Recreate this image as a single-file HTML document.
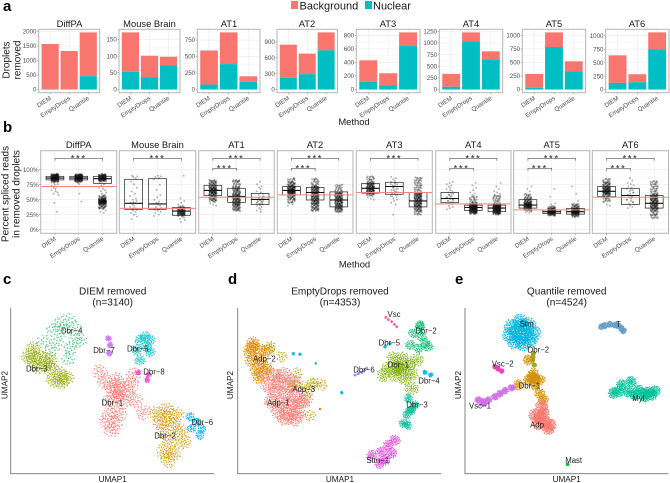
<!DOCTYPE html>
<html lang="en">
<head>
<meta charset="utf-8">
<title>Removed droplets figure</title>
<style>
html,body{margin:0;padding:0;background:#fff;}
svg{display:block;font-family:"Liberation Sans",sans-serif;}
.t{font-size:9.4px;fill:#1a1a1a;text-anchor:middle;}
.ax{font-size:9.4px;fill:#1a1a1a;text-anchor:middle;}
.yl{font-size:10px;fill:#1a1a1a;text-anchor:middle;}
.ut{font-size:10.1px;fill:#1a1a1a;text-anchor:middle;}
.ua{font-size:8.2px;fill:#1a1a1a;text-anchor:middle;}
.lt{font-size:15px;font-weight:bold;fill:#000;}
</style>
</head>
<body>
<svg id="fig" xmlns="http://www.w3.org/2000/svg" width="670" height="483" viewBox="0 0 670 483">
  <rect x="0" y="0" width="670" height="483" fill="#fff"/>
  <g id="layer-a"></g>
  <g id="layer-b"></g>
  <g id="layer-c"></g>

  <text class="lt" x="3" y="11">a</text>
  <text class="lt" x="3" y="132">b</text>
  <text class="lt" x="3" y="284">c</text>
  <text class="lt" x="228" y="284">d</text>
  <text class="lt" x="455" y="284">e</text>

  <rect x="291" y="1" width="7" height="8" fill="#F8766D"/>
  <text x="299.5" y="9.5" font-size="11" fill="#1a1a1a">Background</text>
  <rect x="365" y="1" width="7" height="8" fill="#00BFC4"/>
  <text x="373" y="9.5" font-size="11" fill="#1a1a1a">Nuclear</text>

  <text class="t" x="69.5" y="27">DiffPA</text>
  <text class="t" x="149.5" y="27">Mouse Brain</text>
  <text class="t" x="229" y="27">AT1</text>
  <text class="t" x="307" y="27">AT2</text>
  <text class="t" x="388" y="27">AT3</text>
  <text class="t" x="471" y="27">AT4</text>
  <text class="t" x="554" y="27">AT5</text>
  <text class="t" x="637" y="27">AT6</text>

  <text class="yl" transform="translate(9.5,60) rotate(-90)">Droplets</text>
  <text class="yl" transform="translate(20.5,60) rotate(-90)">removed</text>
  <text class="ax" x="354" y="125">Method</text>

  <text class="t" x="78.7" y="148">DiffPA</text>
  <text class="t" x="157.5" y="148">Mouse Brain</text>
  <text class="t" x="236.5" y="148">AT1</text>
  <text class="t" x="315" y="148">AT2</text>
  <text class="t" x="394.3" y="148">AT3</text>
  <text class="t" x="473.3" y="148">AT4</text>
  <text class="t" x="551.7" y="148">AT5</text>
  <text class="t" x="630.3" y="148">AT6</text>

  <text class="yl" transform="translate(8.5,194) rotate(-90)">Percent spliced reads</text>
  <text class="yl" transform="translate(19.5,194) rotate(-90)">in removed droplets</text>
  <text class="ax" x="354.5" y="267.5">Method</text>

  <text class="ut" x="112.7" y="294.5">DIEM removed</text>
  <text class="ut" x="112.7" y="305.5">(n=3140)</text>
  <text class="ut" x="340" y="294.5">EmptyDrops removed</text>
  <text class="ut" x="340" y="305.5">(n=4353)</text>
  <text class="ut" x="566.7" y="294.5">Quantile removed</text>
  <text class="ut" x="566.7" y="305.5">(n=4524)</text>

  <text class="ua" x="112.7" y="482">UMAP1</text>
  <text class="ua" transform="translate(7.5,385) rotate(-90)">UMAP2</text>
  <text class="ua" x="340" y="482">UMAP1</text>
  <text class="ua" transform="translate(233,385) rotate(-90)">UMAP2</text>
  <text class="ua" x="566.7" y="482">UMAP1</text>
  <text class="ua" transform="translate(461,385) rotate(-90)">UMAP2</text>
</svg>

<script>
/* ---------- data: panel a (droplets removed) ---------- */
const methods = ["DIEM", "EmptyDrops", "Quantile"];
const totalDroplets = [
  [1570, 1330, 1970],
  [171, 101, 98],
  [592, 866, 200],
  [850, 680, 1082],
  [432, 240, 845],
  [336, 1228, 821],
  [288, 1055, 521],
  [636, 284, 1062]
];
const nuclearDroplets = [
  [20, 0, 460],
  [53, 36, 72],
  [75, 385, 115],
  [220, 290, 742],
  [113, 64, 643],
  [57, 1035, 650],
  [30, 785, 337],
  [123, 135, 747]
];
const barTickValues = [
  [0, 500, 1000, 1500, 2000],
  [0, 50, 100, 150],
  [0, 250, 500, 750],
  [0, 300, 600, 900],
  [0, 200, 400, 600, 800],
  [0, 250, 500, 750, 1000, 1250],
  [0, 250, 500, 750, 1000],
  [0, 250, 500, 750, 1000]
];

/* ---------- data: panel b (percent spliced reads) ---------- */
const percentTicks = [0, 25, 50, 75, 100];
const percentTickLabels = ["0%", "25%", "50%", "75%", "100%"];
const thresholds = [72, 35.5, 54, 58, 62, 43, 33, 54];
const boxQ1 = [
  [83, 83, 77], [34, 34, 24], [57, 45.5, 42], [58, 49.5, 38],
  [61, 59, 38], [45, 32, 30], [36, 27, 26], [55, 42, 36]
];
const boxMedian = [
  [86, 86, 85], [44, 43, 31], [65.5, 55.5, 50.5], [65.5, 62, 49.5],
  [69, 72, 48], [52, 37, 36], [41, 30, 30], [64, 57, 44]
];
const boxQ3 = [
  [89, 89, 89], [84, 85, 37], [74, 69, 60.5], [72, 70.5, 63],
  [77, 79, 62], [62, 41, 41], [50, 33, 35.5], [72, 69, 57]
];
const shortBracket = [false, false, true, true, false, true, true, true];
const starLabel = "***";
/* dense part of each strip, per dataset then method */
const coreReads = [
  [[92,91,90,89,88,87,86,85,84,83,82,81,80,92,90,88,86,84,88,87,86,85,84],
   [92,91,90,89,88,87,86,85,84,83,82,81,80,91,89,87,85,83,88,87,86,85,84],
   [92,91,90,89,88,87,86,85,84,83,82,81,90,88,86,84,56,54,52,50,48,47,46,45,44,42,40,49,51,43,38,36,48,46,44,47,50]],
  [[],[],[38,35,33,32,31,30,29,28,27,26,25,24]],
  [[82,80,78,76,74,72,70,68,66,64,62,60,58,56,54,52,50,48,70,68,66,64,62,60],
   [82,80,76,72,68,64,60,58,56,54,52,50,48,46,44,42,40,38,36,34,32,70,66,62,58,54,50,46,42],
   []],
  [[84,80,78,76,74,72,70,68,66,65,64,63,62,60,58,56,54,52,50,46,72,70,68,66,64,62,60],
   [84,80,76,72,70,68,66,64,62,60,58,56,54,52,50,48,46,44,42,40,38,36,34,32,72,68,64,60,56,52,48,44],
   [74,70,66,62,60,58,56,54,52,50,48,46,44,42,40,38,36,34,32,30,60,56,52,48,44,40,36]],
  [[88,84,80,78,76,74,72,70,68,66,64,62,60,58,76,72,70,68,66,64],
   [],
   [86,82,78,74,70,66,62,60,58,56,54,52,50,48,46,44,42,40,38,36,34,32,30,26,60,56,52,48,44,40]],
  [[],
   [54,50,46,44,42,41,40,39,38,37,36,35,34,33,32,31,30,29,28,27,41,39,37,35,33,31],
   [56,52,48,44,42,41,40,39,38,37,36,35,34,33,32,31,30,29,28,27,26,40,38,36,34,32,30]],
  [[58,54,52,50,48,46,44,43,42,41,40,39,38,37,36,34,32,46,44,42,40,38],
   [38,36,35,34,33,32,31,30,29,28,27,26,25,24,33,31,29,30,32,30,28],
   [42,40,38,36,35,34,33,32,31,30,29,28,27,26,25,24,22,31,29,34,32,30,28]],
  [[84,80,78,76,74,72,70,68,66,64,62,60,58,56,52,48,70,68,66,64,62,60],
   [],
   [80,76,72,68,64,60,58,56,54,52,50,48,46,44,42,40,38,36,34,32,30,26,24,20,56,52,48,44,40,36]]
];
/* sparse part of each strip */
const tailReads = [
  [[78,76,75,73,72,70,68,66,64,62,60,58,45,30],[78,76,72,60,47],[78,76,74,72,70,68,66,64,62,60,58,36,34,32,30,28]],
  [[90,89,88,86,80,76,70,64,60,56,52,50,48,46,45,44,42,40,38,36,35,34,33,32,30,28,25,22,18],
   [90,89,88,86,84,75,66,58,54,50,47,45,44,43,42,40,38,36,35,34,33,32,30,28,25,23],
   [90,52,48,45,42,40,37,35,23,22,20,18,16,13]],
  [[46,44,42,40],[],[80,76,72,70,68,64,62,60,58,56,54,52,50,49,48,47,46,45,44,43,42,41,40,38,36,34,32,30,55,53,51,49,47,45,43]],
  [[48,44,42,40,86],[],[]],
  [[84,56,54,52,50],[88,86,84,82,80,78,76,74,72,70,68,66,64,62,60,58,56,54,52,50,48,45,42,25,78,76,74,72,70,68,66,64,62,60,58,56],[]],
  [[80,78,76,74,72,70,68,66,64,62,60,58,56,54,52,50,48,46,44,42,40,38,36,34,60,58,56,54,52,50,48,46,44],[78,74,70,66,62,60,58,56],[78,72,68,64,62,60,58,56,54]],
  [[72,68,64,60,56,30,29,28],[68,55,44,42,40],[72,60,48,44]],
  [[46,42,40],[86,82,78,76,74,72,70,68,66,64,62,60,58,56,54,52,50,48,46,44,42,40,38,36,66,62,58,54,50,46],[]]
];

/* ---------- data: UMAP clusters (UMAP units) ---------- */
const diemClusters = {
  "Dbr-1": [[36,26.6],[34,24.6],[38,24.6],[33,21.6],[37,21.6],[35,28.1],[31.5,27.6],[40.5,22.1],[33,18.1],[36,18.1],[32,15.6],[34.5,15.1],[33.5,13.1],[39.5,26.6],[35,23.1],[36,24.6],[33.5,26],[43,18.5],[30,30.5],[40,29.5]],
  "Dbr-2": [[50,19.1],[53,17.6],[48,15.6],[52,14.6],[49,12.6],[54,12.6],[51,9.6],[55,9.6],[49,6.6],[52,6.1],[50.5,4.1],[47,18.1],[50,16.5]],
  "Dbr-3": [[10,37.6],[8.5,35.1],[12,35.1],[15,34.1],[11,32.1],[15,31.6],[18,30.1],[18.5,27.6],[16,28.1],[20,28.6],[13.5,33.1],[10,34.6]],
  "Dbr-4": [[20.5,46.1],[22.5,43.6],[16,43.1],[19,43.1],[24,40.1],[13,39.6],[17,39.1],[21,37.6],[20.5,34.6],[15,36.6],[22.5,40.1],[18,45.1]],
  "Dbr-5": [[43.5,41.1],[45,40.1],[42,40.1],[44,38.1],[41,37.1],[45,36.6],[42,34.1]],
  "Dbr-6": [[57,17.1],[59,15.6],[60.5,13.6],[57.5,13.6],[60,11.6]],
  "Dbr-7": [[32.5,40.6],[33,38.6],[32.8,36.1]],
  "Dbr-8": [[44.5,29.6],[44.2,28.1],[41.5,30.4]]
};
const diemLabels = {
  "Dbr\u22124": [21.5,42.9], "Dbr\u22127": [31.2,37], "Dbr\u22125": [41.3,37.4], "Dbr\u22123": [11,31.4],
  "Dbr\u22128": [46.2,30.6], "Dbr\u22121": [33.7,21.2], "Dbr\u22126": [60.7,15.4], "Dbr\u22122": [49.5,11.3]
};
const emptyClusters = {
  "Adp-1": [[16,27.6],[19,26.6],[15,24.6],[18,24.1],[21,23.6],[14,21.6],[17,21.1],[20,20.6],[22.5,21.6],[16,18.6],[19,18.1],[22,18.1],[18,16.6],[21,16.6],[13,26.6],[11.5,30.1],[14.5,29.6],[17.5,29.6],[20.5,27.6],[24,22.1]],
  "Adp-2": [[8.5,39.1],[7.5,36.6],[10.5,37.1],[8,34.1],[11,34.1],[9.5,31.6],[12.5,31.6],[13,37.1],[10,29.1],[8,38]],
  "Adp-3": [[21,26.6],[24,26.1],[27,27.1],[29,26.6],[25,24.6],[25.5,17.4],[21.5,30.1],[13.5,38.1],[17,35.1],[26,27]],
  "Dbr-1": [[52,31.6],[49,31.6],[55,32.6],[51,29.6],[54,28.6],[50.5,34.6],[53,34.6],[56,30.1],[57.5,34.1],[47.5,29.6],[56,25.6],[52,32],[53,31]],
  "Dbr-2": [[58.5,44.1],[56.5,42.1],[60,39.1],[59,41.1],[55.5,38.6],[58,37.6],[61,38.1],[58.5,44.5]],
  "Dbr-3": [[56,19.1],[54.5,17.6],[57,20.6],[54.8,14.6],[53.5,15.1],[55,22.6],[55.5,19]],
  "Dbr-4": [[61.7,29.6],[60,30.4]],
  "Dbr-5": [[48,38.1],[49.5,39],[35,24.3],[22.5,35.8],[20.5,36]],
  "Dbr-6": [[39,29.6],[40,30],[41,30.4],[41.8,31],[42.5,31.6]],
  "Vsc": [[48.2,46.9],[49,46.2],[50,45.6],[50.8,44.8],[51.5,44.1]],
  "Stm-1": [[49,8.6],[47,6.6],[50,6.1],[48,4.1],[46.5,3.1],[51,10.1],[44,5.5]],
  "Green": [[27.2,33.1]],
  "Orange": [[28.5,19.4]]
};
const emptyLabels = {
  "Vsc": [50.7,47.8], "Dbr\u22122": [60.3,42.9], "Dbr\u22125": [49.3,39.3], "Adp\u22122": [11.8,34.4],
  "Dbr\u22121": [52,32.6], "Dbr\u22126": [41.7,31.1], "Dbr\u22124": [61.2,27.8], "Adp\u22123": [23.6,25.3],
  "Adp\u22121": [16,21.2], "Dbr\u22123": [57.6,20.6], "Stm\u22121": [45.8,4]
};
const quantileClusters = {
  "Stm": [[22.5,45.6],[20,44.1],[25,44.6],[21.5,42.6],[24.5,42.1],[19.5,41.6],[22.5,40.6],[25.5,40.1],[21,39.6],[23.5,39.1],[23,44.1],[26.5,42.1]],
  "T": [[47,44.1],[48,44.5],[49.5,44.8],[51,44.6],[52,44.4],[53,43.5],[53.5,42.9]],
  "Dbr-2": [[26.5,36.1],[26.3,34.1],[26.8,32.6],[26.4,35]],
  "Dbr-1": [[27,28.6],[25,28.1],[28.5,28.1],[26.5,30.1],[27,26.6],[22,26.6],[29.5,22.1],[25,34.1],[27,28.5],[26,29],[28.5,24]],
  "Vsc-2": [[15,32.1],[16,31.4],[17,30.8]],
  "Vsc-1": [[11.5,21.1],[10,22.1],[13,22.1],[15,23.1],[16.5,24],[18,24.9],[20,25.8],[11.5,21.5]],
  "Adp": [[29.5,18.1],[27,17.6],[30,15.6],[28,15.1],[31.5,14.6],[29,20.1],[31,13.6],[28.5,17]],
  "Mast": [[36.8,2.8]],
  "Myl": [[52,24.6],[55,24.6],[58,25.1],[61,24.6],[62,23.6],[60,23.1],[57,23.6],[55.8,27.6],[53,26.6],[63,24.8],[60,24],[50.5,24.2]]
};
const quantileLabels = {
  "Stm": [24.5,44.9], "T": [52,44.8], "Dbr\u22122": [28,37.1], "Vsc\u22122": [17.3,32.9], "Dbr\u22121": [25.3,26.4],
  "Myl": [58,22.6], "Vsc\u22121": [10.5,20.4], "Adp": [27.6,14.6], "Mast": [38.6,4]
};

/* ---------- styles and layout (not data) ---------- */
const diemStyle = {
  "Dbr-1":["#F8766D",8,24],"Dbr-2":["#D39200",8,26],"Dbr-3":["#93AA00",7.5,30],"Dbr-4":["#2FC26A",7.5,15],
  "Dbr-5":["#00C1C8",5.5,24],"Dbr-6":["#00B0F6",4.5,20],"Dbr-7":["#CF78FF",3,24],"Dbr-8":["#F040C8",3,14]
};
const emptyStyle = {
  "Adp-1":["#F8766D",8,38],"Adp-2":["#DE8C00",7,36],"Adp-3":["#B79F00",6,16],"Dbr-1":["#7CAE00",7,32],
  "Dbr-2":["#00BA68",5,22],"Dbr-3":["#00C09A",4.5,24],"Dbr-4":["#00B4F0",2.5,14],"Dbr-5":["#00B6EB",2,9],
  "Dbr-6":["#A58AFF",1.5,10],"Vsc":["#FB61A7",1.5,9],"Stm-1":["#E040D8",5.5,28],"Green":["#00BA38",1,8],"Orange":["#F07000",1.2,6]
};
const quantileStyle = {
  "Stm":["#00B4E0",8,38],"T":["#619CC4",3.2,20],"Dbr-2":["#A5A520",2.4,16],"Dbr-1":["#D39200",5.5,26],
  "Vsc-2":["#F040B8",2.4,18],"Vsc-1":["#CF6FE8",3.6,24],"Adp":["#F8766D",6.5,38],"Mast":["#00BA38",1.4,14],"Myl":["#00C19A",5.5,30]
};
const dotStencil = [[0,0],[.35,.1],[-.3,.2],[.1,-.4],[-.15,-.25],[.55,-.3],[-.6,-.1],[.25,.55],[-.35,.6],[.75,.15],[-.8,.25],[.05,.85],[.5,.7],[-.65,-.6],[.65,-.65],[.1,-.85],[-.25,-.7],[.9,-.2],[-.95,-.15],[.45,.3],[-.1,.45],[-.45,-.35],[.3,-.15],[-.2,.05],[.15,.25],[.4,-.55],[-.5,.4],[.8,.5],[-.75,.6],[.02,-.15],[.6,.02],[-.55,.08],[.2,-.62],[-.1,.68],[.33,.42],[-.38,-.52],[.72,-.42],[-.82,-.38]];
const jitterOffsets = [-.9,.2,.7,-.4,.95,-.15,.5,-.7,.1,.85,-.55,.35,-.95,.6,-.25,.75,-.05,-.8,.4,-.3,.15];
const barFrames = [[38.7,99.7],[119,180],[197.3,260],[277,337.5],[356.3,420],[439.3,502.7],[522.3,585.7],[605.7,669]];
const boxFrames = [[40.7,116.7],[119.3,195.7],[198.7,274.3],[277.3,353],[356.3,432.3],[435.7,511],[513.7,589.7],[592.3,668.5]];

const NS = "http://www.w3.org/2000/svg";
function make(parent, tag, props) {
  const node = document.createElementNS(NS, tag);
  for (const k in props) node.setAttribute(k, props[k]);
  parent.appendChild(node);
  return node;
}

/* ---------- panel a ---------- */
const layerA = document.getElementById("layer-a");
const barTop = 29.3, barBottom = 92.7, barZero = 89.5, barMaxY = 32.4;
barFrames.forEach(function (frame, p) {
  const left = frame[0], right = frame[1];
  const maxTotal = Math.max.apply(null, totalDroplets[p]);
  const yScale = function (v) { return barZero - v / maxTotal * (barZero - barMaxY); };
  const xScale = function (c) { return left + (c + 0.6) / 3.2 * (right - left); };
  const g = make(layerA, "g", {});
  
  
  const bg = make(g, "rect", {x: left, y: barTop, width: right - left, height: barBottom - barTop, fill: "#fff"});
  
  
  barTickValues[p].forEach(function (t, i) {
    const y = yScale(t);
    const grid = make(g, "line", {x1: left, x2: right, y1: y, y2: y, stroke: "#ebebeb", "stroke-width": .6});
    
    
    if (i < barTickValues[p].length - 1) {
      const midY = yScale((t + barTickValues[p][i + 1]) / 2);
      const minor = make(g, "line", {x1: left, x2: right, y1: midY, y2: midY, stroke: "#f3f3f3", "stroke-width": .5});
      
      
    }
    const tick = make(g, "line", {x1: left - 1.5, x2: left, y1: y, y2: y, stroke: "#666", "stroke-width": .5});
    
    
    const lab = make(g, "text", {x: left - 2.2, y: y + 2.2, "font-size": 6.2, fill: "#4d4d4d", "text-anchor": "end"});
    lab.textContent = t;
    
    
  });
  methods.forEach(function (m, c) {
    const cx = xScale(c), bw = 0.9 / 3.2 * (right - left);
    const grid = make(g, "line", {x1: cx, x2: cx, y1: barTop, y2: barBottom, stroke: "#ebebeb", "stroke-width": .6});
    
    
    const total = totalDroplets[p][c], nuc = nuclearDroplets[p][c];
    const b1 = make(g, "rect", {x: cx - bw / 2, y: yScale(total), width: bw, height: yScale(nuc) - yScale(total), fill: "#F8766D"});
    
    
    const b2 = make(g, "rect", {x: cx - bw / 2, y: yScale(nuc), width: bw, height: barZero - yScale(nuc), fill: "#00BFC4"});
    
    
    const tick = make(g, "line", {x1: cx, x2: cx, y1: barBottom, y2: barBottom + 1.5, stroke: "#666", "stroke-width": .5});
    
    
    const lab = make(g, "text", {transform: "translate(" + (cx + 1.5) + "," + (barBottom + 6.5) + ") rotate(-33)", "font-size": 6.2, fill: "#4d4d4d", "text-anchor": "end"});
    lab.textContent = m;
    
    
  });
  const border = make(g, "rect", {x: left, y: barTop, width: right - left, height: barBottom - barTop, fill: "none", stroke: "#b5b5b5", "stroke-width": 1});
  
  
});

/* ---------- panel b ---------- */
const layerB = document.getElementById("layer-b");
const boxTop = 150.7, boxBottom = 233.3;
const boxY = function (v) { return 229.7 - v * 0.6; };
boxFrames.forEach(function (frame, p) {
  const left = frame[0], right = frame[1];
  const xScale = function (c) { return left + (c + 0.6) / 3.2 * (right - left); };
  const bw = 0.75 / 3.2 * (right - left);
  const g = make(layerB, "g", {});
  
  
  percentTicks.forEach(function (t, i) {
    const y = boxY(t);
    const grid = make(g, "line", {x1: left, x2: right, y1: y, y2: y, stroke: "#ebebeb", "stroke-width": .6});
    
    
    if (i < percentTicks.length - 1) {
      const mid = boxY((t + percentTicks[i + 1]) / 2);
      const minor = make(g, "line", {x1: left, x2: right, y1: mid, y2: mid, stroke: "#f3f3f3", "stroke-width": .5});
      
      
    }
    if (p === 0) {
      const tick = make(g, "line", {x1: left - 1.5, x2: left, y1: y, y2: y, stroke: "#666", "stroke-width": .5});
      
      
      const lab = make(g, "text", {x: left - 2, y: y + 2.2, "font-size": 6.2, fill: "#4d4d4d", "text-anchor": "end"});
      lab.textContent = percentTickLabels[i];
      
      
    }
  });
  methods.forEach(function (m, c) {
    const cx = xScale(c);
    const grid = make(g, "line", {x1: cx, x2: cx, y1: boxTop, y2: boxBottom, stroke: "#ebebeb", "stroke-width": .6});
    
    
    let j = c * 5 + p * 3;
    coreReads[p][c].forEach(function (v) {
      for (let r = 0; r < 7; r++) {
        const dot = make(g, "circle", {cx: cx + jitterOffsets[j % jitterOffsets.length] * 3.8, cy: boxY(v + (r - 3) * 0.4), r: .95, fill: "#000", "fill-opacity": .33});
        
        
        j++;
      }
    });
    tailReads[p][c].forEach(function (v) {
      const dot = make(g, "circle", {cx: cx + jitterOffsets[j % jitterOffsets.length] * 3.8, cy: boxY(v), r: .95, fill: "#000", "fill-opacity": .3});
      
      
      j++;
    });
    const box = make(g, "rect", {x: cx - bw / 2, y: boxY(boxQ3[p][c]), width: bw, height: boxY(boxQ1[p][c]) - boxY(boxQ3[p][c]), fill: "none", stroke: "#222", "stroke-width": .7});
    
    
    const med = make(g, "line", {x1: cx - bw / 2, x2: cx + bw / 2, y1: boxY(boxMedian[p][c]), y2: boxY(boxMedian[p][c]), stroke: "#111", "stroke-width": 1.1});
    
    
    const tick = make(g, "line", {x1: cx, x2: cx, y1: boxBottom, y2: boxBottom + 1.5, stroke: "#666", "stroke-width": .5});
    
    
    const lab = make(g, "text", {transform: "translate(" + (cx + 1.5) + "," + (boxBottom + 6.5) + ") rotate(-33)", "font-size": 6.2, fill: "#4d4d4d", "text-anchor": "end"});
    lab.textContent = m;
    
    
  });
  const red = make(g, "line", {x1: left, x2: right, y1: boxY(thresholds[p]), y2: boxY(thresholds[p]), stroke: "#F8837B", "stroke-width": 1});
  
  
  const drawBracket = function (c1, c2, y) {
    const x1 = xScale(c1), x2 = xScale(c2);
    const br = make(g, "path", {d: "M" + x1 + " " + (y + 2.4) + "V" + y + "H" + x2 + "V" + (y + 2.4), fill: "none", stroke: "#555", "stroke-width": .6});
    
    
    const st = make(g, "text", {x: (x1 + x2) / 2, y: y + 3.2, "font-size": 9.5, fill: "#222", "text-anchor": "middle", "letter-spacing": 1.6});
    st.textContent = starLabel;
    
    
  };
  drawBracket(0, 2, 158.3);
  if (shortBracket[p]) drawBracket(0, 1, 168.3);
  const border = make(g, "rect", {x: left, y: boxTop, width: right - left, height: boxBottom - boxTop, fill: "none", stroke: "#b5b5b5", "stroke-width": 1});
  
  
});

/* ---------- panels c, d, e ---------- */
const layerC = document.getElementById("layer-c");
function drawUmap(left, domainStart, clusters, styles, labels, passes) {
  const bottom = 473.7, top = 308, right = left + 203.5, perUnit = 10 / 3;
  const xScale = function (u) { return left + (u - domainStart) * perUnit; };
  const yScale = function (v) { return bottom - v * perUnit; };
  const g = make(layerC, "g", {});
  
  
  let turn = 0;
  Object.keys(clusters).forEach(function (name) {
    const style = styles[name];
    clusters[name].forEach(function (pt) {
      for (let pass = 0; pass < passes; pass++) {
        turn += 2.4;
        const ca = Math.cos(turn), sa = Math.sin(turn);
        for (let i = 0; i < style[2]; i++) {
          const ox = dotStencil[i % dotStencil.length][0] * style[1], oy = dotStencil[i % dotStencil.length][1] * style[1];
          const dot = make(g, "circle", {cx: xScale(pt[0]) + ox * ca - oy * sa, cy: yScale(pt[1]) + ox * sa + oy * ca, r: .6, fill: style[0], "fill-opacity": .85});
          
          
        }
      }
    });
  });
  const axis = make(g, "path", {d: "M" + left + " " + top + "V" + bottom + "H" + right, fill: "none", stroke: "#777", "stroke-width": .9});
  
  
  Object.keys(labels).forEach(function (name) {
    const lab = make(g, "text", {x: xScale(labels[name][0]), y: yScale(labels[name][1]) + 2.7, "font-size": 7.8, fill: "#222", "text-anchor": "middle"});
    lab.textContent = name;
    
    
  });
}
drawUmap(10.7, 3.2, diemClusters, diemStyle, diemLabels, 2);
drawUmap(237.7, 3.8, emptyClusters, emptyStyle, emptyLabels, 2);
drawUmap(465, 6, quantileClusters, quantileStyle, quantileLabels, 3);
</script>
</body>
</html>
